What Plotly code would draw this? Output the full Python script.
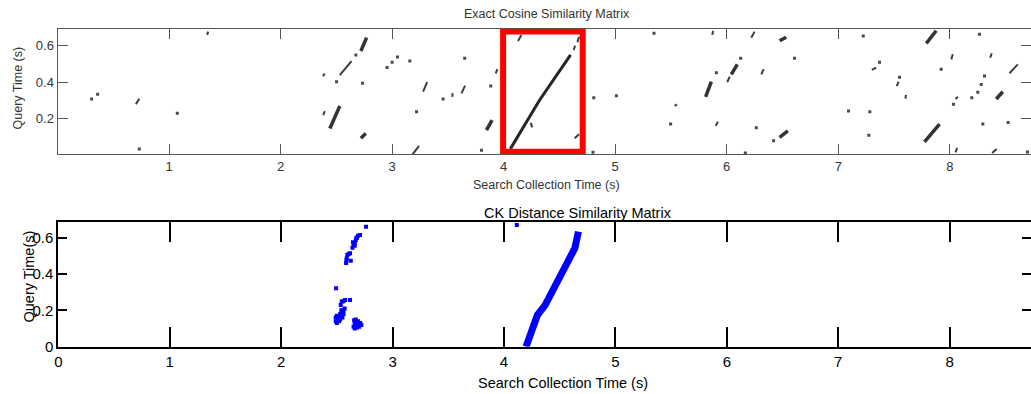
import plotly.graph_objects as go

W, H = 1031, 394

# ---------------- data: top panel (Exact Cosine Similarity Matrix) ----------------
thin_x0 = [0.703, 1.342, 2.382, 2.380, 3.183, 3.278, 3.622, 3.929, 4.129, 4.243, 4.628, 4.661, 4.637,
           5.871, 6.220, 6.005, 6.310, 5.901, 7.301, 7.525, 7.603, 8.013, 8.362, 8.535, 8.051, 8.051,
           8.380, 3.540, 2.531, 5.533]
thin_y0 = [0.280, 0.659, 0.220, 0.432, 0.005, 0.348, 0.339, 0.449, 0.626, 0.178, 0.576, 0.619, 0.093,
           0.659, 0.644, 0.400, 0.443, 0.162, 0.467, 0.379, 0.310, 0.525, 0.534, 0.449, 0.308, 0.016,
           0.012, 0.320, 0.439, 0.271]
thin_x1 = [0.733, 1.351, 2.397, 2.395, 3.242, 3.314, 3.654, 3.944, 4.159, 4.256, 4.640, 4.676, 4.676,
           5.877, 6.250, 6.026, 6.331, 5.921, 7.340, 7.541, 7.606, 8.027, 8.376, 8.610, 8.072, 8.066,
           8.420, 3.542, 2.636, 5.554]
thin_y1 = [0.310, 0.677, 0.242, 0.448, 0.052, 0.400, 0.381, 0.471, 0.659, 0.153, 0.600, 0.649, 0.115,
           0.681, 0.677, 0.430, 0.472, 0.184, 0.480, 0.403, 0.330, 0.553, 0.558, 0.498, 0.320, 0.041,
           0.034, 0.340, 0.516, 0.279]

thick_x0 = [2.720, 2.442, 2.720, 3.846, 5.811, 6.041, 6.474, 6.474, 7.789, 7.773, 8.416]
thick_y0 = [0.571, 0.147, 0.093, 0.138, 0.320, 0.443, 0.627, 0.098, 0.613, 0.074, 0.308]
thick_x1 = [2.771, 2.531, 2.764, 3.896, 5.862, 6.095, 6.534, 6.548, 7.878, 7.908, 8.475]
thick_y1 = [0.644, 0.270, 0.120, 0.193, 0.403, 0.498, 0.646, 0.133, 0.682, 0.171, 0.348]

diag_x = [4.060, 4.320, 4.600]
diag_y = [0.035, 0.300, 0.550]

dot_x = [0.306, 0.360, 0.733, 1.074, 2.502, 2.675, 2.735, 2.955, 3.000, 3.048, 3.159, 3.219, 3.457,
         3.651, 3.884, 3.801, 4.808, 5.011, 5.348, 5.497, 4.801, 6.125, 6.608, 5.907, 7.092, 6.265,
         6.420, 6.167, 7.224, 7.370, 7.549, 7.283, 7.274, 7.923, 8.266, 8.311, 8.282, 8.251, 8.033,
         8.197, 8.296, 8.523, 8.696]
dot_y = [0.308, 0.334, 0.034, 0.230, 0.403, 0.549, 0.394, 0.480, 0.509, 0.538, 0.516, 0.238, 0.308,
         0.531, 0.379, 0.028, 0.315, 0.326, 0.668, 0.171, 0.016, 0.531, 0.531, 0.452, 0.242, 0.151,
         0.079, 0.012, 0.653, 0.509, 0.427, 0.238, 0.109, 0.471, 0.662, 0.434, 0.388, 0.345, 0.279,
         0.315, 0.171, 0.180, 0.018]

box_x = [3.995, 4.709]
box_y = [0.019, 0.678]

# ---------------- data: bottom panel (CK Distance Similarity Matrix) ----------------
ck_x = [2.49, 2.50, 2.51, 2.50, 2.52, 2.53, 2.54, 2.55, 2.56, 2.57, 2.52, 2.49, 2.53, 2.55, 2.54, 2.56,
        2.535, 2.544, 2.574, 2.558, 2.618, 2.493,
        2.65, 2.66, 2.67, 2.68, 2.69, 2.70, 2.71, 2.72, 2.66, 2.68, 2.70, 2.655,
        2.583, 2.586, 2.589, 2.625, 2.594, 2.606, 2.618, 2.64, 2.65, 2.66, 2.67, 2.68, 2.69, 2.645,
        2.66, 2.675, 2.708, 2.762, 4.115]
ck_y = [0.14, 0.13, 0.15, 0.17, 0.16, 0.18, 0.17, 0.19, 0.20, 0.21, 0.14, 0.16, 0.15, 0.16, 0.20, 0.18,
        0.229, 0.248, 0.257, 0.25, 0.257, 0.321,
        0.11, 0.13, 0.15, 0.12, 0.14, 0.11, 0.13, 0.12, 0.10, 0.105, 0.125, 0.145,
        0.46, 0.475, 0.486, 0.473, 0.505, 0.51, 0.514, 0.545, 0.56, 0.57, 0.585, 0.60, 0.61, 0.575,
        0.555, 0.60, 0.615, 0.66, 0.67]
band_x = [4.198, 4.300, 4.369, 4.420, 4.483, 4.564, 4.636, 4.668]
band_y = [0.000, 0.174, 0.229, 0.285, 0.358, 0.450, 0.542, 0.633]

x_ticks = [0, 1, 2, 3, 4, 5, 6, 7, 8]
top_y_ticks = [0.2, 0.4, 0.6]
bot_y_ticks = [0, 0.2, 0.4, 0.6]


def segs(x0, y0, x1, y1):
    xs, ys = [], []
    for a, b, c, d in zip(x0, y0, x1, y1):
        xs += [a, c, None]
        ys += [b, d, None]
    return xs, ys


FONT = "Arial, Liberation Sans, sans-serif"
fig = go.Figure()

tx, ty = segs(thin_x0, thin_y0, thin_x1, thin_y1)
fig.add_trace(go.Scatter(x=tx, y=ty, mode="lines", line=dict(color="#3c3c3c", width=2),
                         xaxis="x", yaxis="y", showlegend=False, hoverinfo="skip"))
kx, ky = segs(thick_x0, thick_y0, thick_x1, thick_y1)
fig.add_trace(go.Scatter(x=kx, y=ky, mode="lines", line=dict(color="#333333", width=3.5),
                         xaxis="x", yaxis="y", showlegend=False, hoverinfo="skip"))
fig.add_trace(go.Scatter(x=diag_x, y=diag_y, mode="lines", line=dict(color="#262626", width=3),
                         xaxis="x", yaxis="y", showlegend=False, hoverinfo="skip"))
fig.add_trace(go.Scatter(x=dot_x, y=dot_y, mode="markers",
                         marker=dict(color="#4a4a4a", size=3, symbol="square", line=dict(width=0)),
                         xaxis="x", yaxis="y", showlegend=False, hoverinfo="skip"))

fig.add_trace(go.Scatter(x=band_x, y=band_y, mode="lines", line=dict(color="#0000ff", width=7),
                         xaxis="x2", yaxis="y2", showlegend=False, hoverinfo="skip"))
fig.add_trace(go.Scatter(x=ck_x, y=ck_y, mode="markers",
                         marker=dict(color="#0000ff", size=4, symbol="square", line=dict(width=0)),
                         xaxis="x2", yaxis="y2", showlegend=False, hoverinfo="skip"))

fig.add_shape(type="rect", xref="x", yref="y", x0=box_x[0], x1=box_x[1], y0=box_y[0], y1=box_y[1],
              line=dict(color="#ff0000", width=6), fillcolor="rgba(0,0,0,0)")

top_dom_y = [1 - 154 / H, 1 - 28.7 / H]
bot_dom_y = [1 - 346.7 / H, 1 - 222 / H]

common_top = dict(showgrid=False, zeroline=False, showline=True, linecolor="#555555", linewidth=1,
                  mirror="ticks", ticks="inside", ticklen=10, tickcolor="#555555", tickwidth=1,
                  tickfont=dict(family=FONT, size=13, color="#333333"))
common_bot = dict(showgrid=False, zeroline=False, showline=True, linecolor="#000000", linewidth=2,
                  mirror="ticks", ticks="inside", tickcolor="#000000", tickwidth=2,
                  tickfont=dict(family=FONT, size=15, color="#000000"))

fig.update_layout(
    width=W, height=H, autosize=False,
    margin=dict(l=0, r=0, t=0, b=0, pad=0),
    paper_bgcolor="white", plot_bgcolor="white",
    xaxis=dict(domain=[57.5 / W, 1], range=[0, 8.728], tickvals=x_ticks[1:], anchor="y",
               automargin=False, **common_top),
    yaxis=dict(domain=top_dom_y, range=[0.007, 0.693], tickvals=top_y_ticks, anchor="x",
               automargin=False, **common_top),
    xaxis2=dict(domain=[58.3 / W, 1], range=[0, 8.73], tickvals=x_ticks, anchor="y2", ticklen=20,
                automargin=False, **common_bot),
    yaxis2=dict(domain=bot_dom_y, range=[0, 0.686], tickvals=bot_y_ticks, anchor="x2", ticklen=9,
                automargin=False, **common_bot),
)

ann = [
    ("Exact Cosine Similarity Matrix", 546.7, 14, 12.5, "#333333", 0),
    ("Search Collection Time (s)", 546, 185, 12.5, "#333333", 0),
    ("Query Time (s)", 17.5, 88, 12.5, "#333333", -90),
    ("CK Distance Similarity Matrix", 578, 213, 14.5, "#000000", 0),
    ("Search Collection Time (s)", 563, 383, 14.5, "#000000", 0),
    ("Query Time(s)", 28.5, 277, 14.5, "#000000", -90),
]
for text, px, py, size, col, ang in ann:
    fig.add_annotation(text=text, x=px / W, y=1 - py / H, xref="paper", yref="paper",
                       xanchor="center", yanchor="middle", showarrow=False, textangle=ang,
                       font=dict(family=FONT, size=size, color=col))

fig.write_html("out.html")
